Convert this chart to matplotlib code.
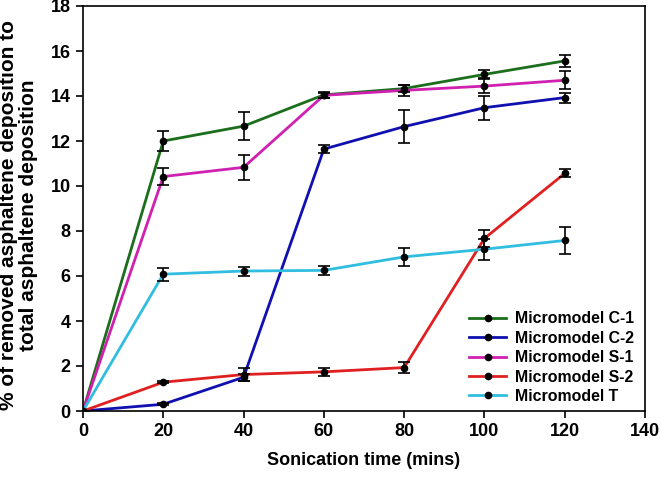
import matplotlib
matplotlib.use("Agg")
import matplotlib.pyplot as plt

time = [0, 20, 40, 60, 80, 100, 120]
c1 = [0, 12.0, 12.66, 14.05, 14.33, 14.96, 15.56]
c1_err = [0, 0.46, 0.62, 0.15, 0.15, 0.18, 0.25]
c2 = [0, 0.30, 1.50, 11.64, 12.64, 13.48, 13.93]
c2_err = [0, 0.05, 0.15, 0.18, 0.73, 0.54, 0.22]
s1 = [0, 10.42, 10.83, 14.03, 14.25, 14.44, 14.70]
s1_err = [0, 0.36, 0.56, 0.12, 0.24, 0.30, 0.40]
s2 = [0, 1.28, 1.62, 1.74, 1.93, 7.67, 10.56]
s2_err = [0, 0.05, 0.28, 0.19, 0.26, 0.36, 0.18]
tt = [0, 6.08, 6.22, 6.25, 6.85, 7.19, 7.58]
tt_err = [0, 0.28, 0.20, 0.20, 0.39, 0.47, 0.62]

labels = ["Micromodel C-1", "Micromodel C-2", "Micromodel S-1", "Micromodel S-2", "Micromodel T"]
colors = ["#1b6e1b", "#1010b0", "#d020b0", "#e02020", "#30bde0"]

plt.rcParams['font.family'] = ['Liberation Sans', 'DejaVu Sans']
plt.rcParams['font.weight'] = 'bold'

fig = plt.figure(figsize=(6.61, 4.80), dpi=100)
ax = fig.add_axes([83/661, 1 - 411/480, (645 - 83)/661, (411 - 6)/480])

series = [(c1, c1_err), (c2, c2_err), (s1, s1_err), (s2, s2_err), (tt, tt_err)]
for (vals, errs), lab, col in zip(series, labels, colors):
    ax.plot(time, vals, color=col, lw=2.0, marker='o', markersize=4.5,
            markerfacecolor='black', markeredgecolor='black', label=lab, zorder=2)
    ax.errorbar(time, vals, yerr=errs, fmt='none', ecolor='black', elinewidth=1.2,
                capsize=4.5, capthick=1.2, zorder=3)

ax.set_xlim(0, 140)
ax.set_ylim(0, 18)
ax.set_xticks(range(0, 141, 20))
ax.set_yticks(range(0, 19, 2))
ax.tick_params(direction='out', length=5, width=1.2, labelsize=13, pad=4)
for lab in ax.get_xticklabels() + ax.get_yticklabels():
    lab.set_fontweight('bold')
for sp in ax.spines.values():
    sp.set_linewidth(1.2)

ax.set_xlabel("Sonication time (mins)", fontsize=13, fontweight='bold', labelpad=8)
fig.text(18.5/661, 1 - 215/480,
         "% of removed asphaltene deposition to\ntotal asphaltene deposition",
         rotation=90, ha='center', va='center', multialignment='center',
         fontsize=15, fontweight='bold', linespacing=1.1)

leg = ax.legend(loc='lower right', bbox_to_anchor=(1.0, -0.01), frameon=False,
                prop={'size': 11.4, 'weight': 'bold'}, handlelength=2.3,
                labelspacing=0.28, handletextpad=0.57, borderaxespad=0.3)

fig.savefig("out.png", dpi=100)
